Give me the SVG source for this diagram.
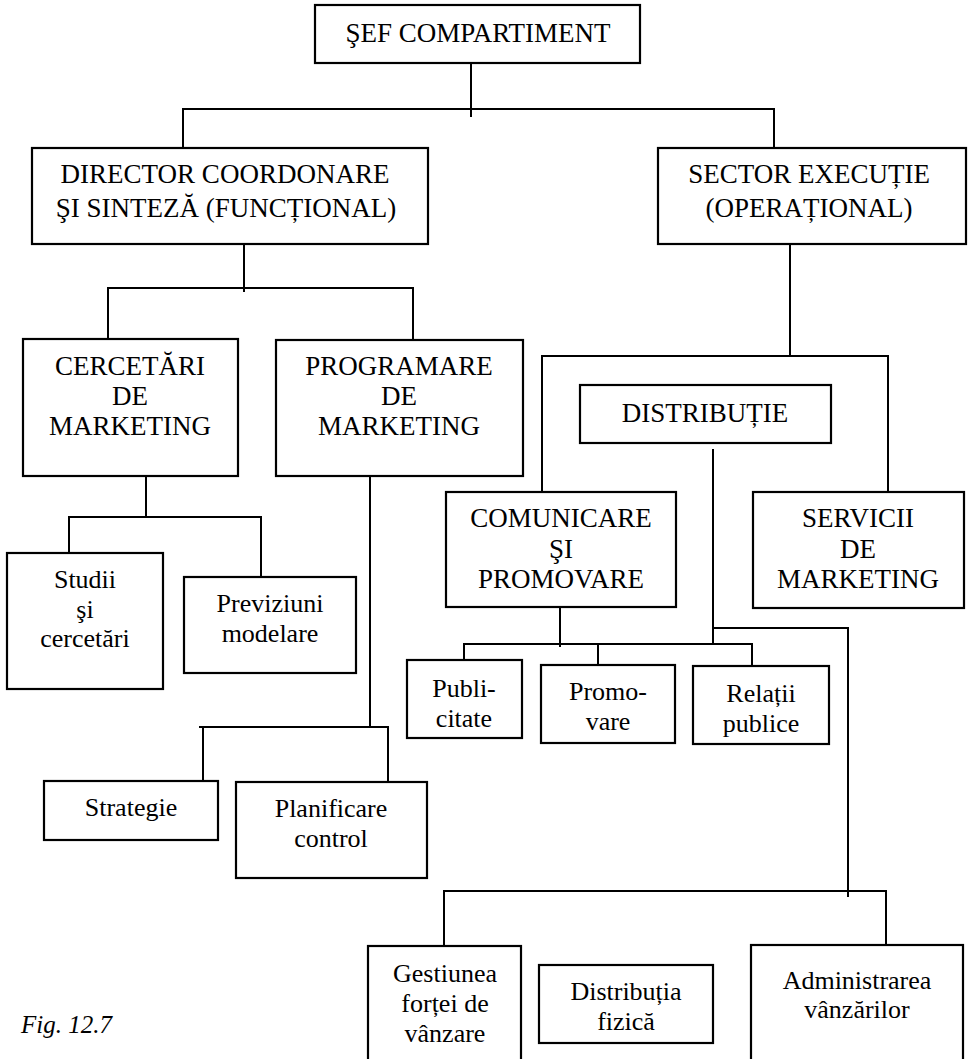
<svg xmlns="http://www.w3.org/2000/svg" width="974" height="1059" viewBox="0 0 974 1059">
  <style>
    .box { fill: #ffffff; stroke: #000000; stroke-width: 2.2; }
    .link { fill: none; stroke: #000000; stroke-width: 2; }
    .t { font-family: Liberation Serif, Times New Roman, Times, Tinos, DejaVu Serif, serif; fill: #000000; text-anchor: middle; }
    .cap { font-size: 27px; }
    .low { font-size: 26px; }
    .fig { font-size: 25px; font-style: italic; text-anchor: start; }
  </style>
  <rect width="974" height="1059" fill="#ffffff"/>

  <!-- connectors -->
  <g id="connectors" class="link">
    <path d="M471,63 V117"/>
    <path d="M183,147 V109 H774 V148"/>
    <path d="M244,235 V292"/>
    <path d="M108,339 V288 H413 V340"/>
    <path d="M146,465 V517"/>
    <path d="M69,553 V517 H261 V577"/>
    <path d="M370,472 V727"/>
    <path d="M203,781 V727 M199,727 H388 V782"/>
    <path d="M790,244 V356"/>
    <path d="M542,492 V356 H888 V492"/>
    <path d="M713,449 V644"/>
    <path d="M560,607 V647"/>
    <path d="M464,660 V644 H752 V666"/>
    <path d="M598,644 V665"/>
    <path d="M713,628 H848 V897"/>
    <path d="M444,946 V891 H886 V945"/>
  </g>

  <g class="t">
  <!-- level 0 -->
  <g id="sef-compartiment">
    <rect class="box" x="315" y="5" width="325" height="58"/>
    <text class="cap" x="478" y="42">ŞEF COMPARTIMENT</text>
  </g>

  <!-- level 1 -->
  <g id="director-coordonare">
    <rect class="box" x="32" y="148" width="396" height="96"/>
    <text class="cap" x="225" y="183">DIRECTOR COORDONARE</text>
    <text class="cap" x="226" y="217">ŞI SINTEZĂ (FUNCȚIONAL)</text>
  </g>
  <g id="sector-executie">
    <rect class="box" x="658" y="148" width="308" height="96"/>
    <text class="cap" x="809" y="183">SECTOR EXECUȚIE</text>
    <text class="cap" x="809" y="217">(OPERAȚIONAL)</text>
  </g>

  <!-- functional branch -->
  <g id="cercetari-marketing">
    <rect class="box" x="23" y="339" width="215" height="137"/>
    <text class="cap" x="130" y="375">CERCETĂRI</text>
    <text class="cap" x="130" y="405">DE</text>
    <text class="cap" x="130" y="435">MARKETING</text>
  </g>
  <g id="programare-marketing">
    <rect class="box" x="276" y="340" width="247" height="136"/>
    <text class="cap" x="399" y="375">PROGRAMARE</text>
    <text class="cap" x="399" y="405">DE</text>
    <text class="cap" x="399" y="435">MARKETING</text>
  </g>
  <g id="studii-cercetari">
    <rect class="box" x="7" y="553" width="156" height="136"/>
    <text class="low" x="85" y="588">Studii</text>
    <text class="low" x="85" y="618">şi</text>
    <text class="low" x="85" y="647">cercetări</text>
  </g>
  <g id="previziuni-modelare">
    <rect class="box" x="184" y="577" width="172" height="96"/>
    <text class="low" x="270" y="612">Previziuni</text>
    <text class="low" x="270" y="642">modelare</text>
  </g>
  <g id="strategie">
    <rect class="box" x="44" y="781" width="174" height="59"/>
    <text class="low" x="131" y="816">Strategie</text>
  </g>
  <g id="planificare-control">
    <rect class="box" x="236" y="782" width="191" height="96"/>
    <text class="low" x="331" y="817">Planificare</text>
    <text class="low" x="331" y="847">control</text>
  </g>

  <!-- operational branch -->
  <g id="distributie">
    <rect class="box" x="580" y="385" width="251" height="58"/>
    <text class="cap" x="705" y="422">DISTRIBUȚIE</text>
  </g>
  <g id="comunicare-promovare">
    <rect class="box" x="446" y="492" width="230" height="115"/>
    <text class="cap" x="561" y="527">COMUNICARE</text>
    <text class="cap" x="561" y="558">ŞI</text>
    <text class="cap" x="561" y="588">PROMOVARE</text>
  </g>
  <g id="servicii-marketing">
    <rect class="box" x="753" y="492" width="211" height="116"/>
    <text class="cap" x="858" y="527">SERVICII</text>
    <text class="cap" x="858" y="558">DE</text>
    <text class="cap" x="858" y="588">MARKETING</text>
  </g>
  <g id="publicitate">
    <rect class="box" x="407" y="660" width="115" height="78"/>
    <text class="low" x="464" y="697">Publi-</text>
    <text class="low" x="464" y="727">citate</text>
  </g>
  <g id="promovare">
    <rect class="box" x="541" y="665" width="134" height="78"/>
    <text class="low" x="608" y="700">Promo-</text>
    <text class="low" x="608" y="730">vare</text>
  </g>
  <g id="relatii-publice">
    <rect class="box" x="693" y="666" width="136" height="78"/>
    <text class="low" x="761" y="702">Relații</text>
    <text class="low" x="761" y="732">publice</text>
  </g>
  <g id="gestiunea-fortei">
    <rect class="box" x="368" y="946" width="153" height="130"/>
    <text class="low" x="445" y="982">Gestiunea</text>
    <text class="low" x="445" y="1012">forței de</text>
    <text class="low" x="445" y="1042">vânzare</text>
  </g>
  <g id="distributia-fizica">
    <rect class="box" x="539" y="965" width="174" height="78"/>
    <text class="low" x="626" y="1000">Distribuția</text>
    <text class="low" x="626" y="1030">fizică</text>
  </g>
  <g id="administrarea-vanzarilor">
    <rect class="box" x="751" y="945" width="212" height="130"/>
    <text class="low" x="857" y="989">Administrarea</text>
    <text class="low" x="857" y="1018">vânzărilor</text>
  </g>

  <text class="fig" x="21" y="1033">Fig. 12.7</text>
  </g>
</svg>
